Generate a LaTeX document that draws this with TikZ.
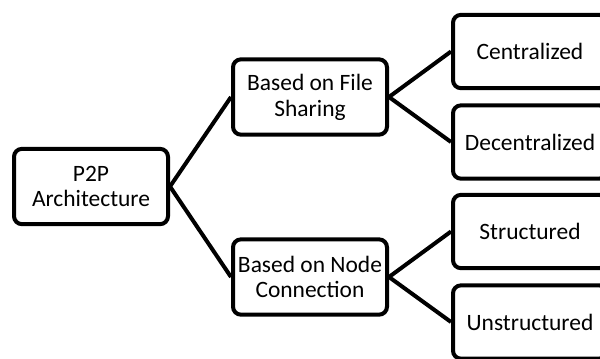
\documentclass[tikz,border=0pt]{standalone}
\usepackage{fontspec}
\setmainfont{Carlito}
\begin{document}
\begin{tikzpicture}[x=0.75pt,y=-0.75pt]
\tikzset{boite/.style={draw, line width=3pt, rounded corners=6pt, align=center, minimum width=115.5pt, minimum height=56.5pt, inner sep=1pt, font=\fontsize{17.6}{19.3}\selectfont}}
\tikzset{feuille/.style={boite, minimum height=55pt}}
\tikzset{lien/.style={line width=3pt}}
\clip (0,0) rectangle (600,358);
\node[boite] (A) at (91,186.5) {P2P\\Architecture};
\node[boite] (B1) at (310,97) {Based on File\\Sharing};
\node[boite] (B2) at (310,277) {Based on Node\\Connection};
\node[feuille] (C1) at (530,51.5) {Centralized};
\node[feuille] (C2) at (530,142) {Decentralized};
\node[feuille] (C3) at (530,231.5) {Structured};
\node[feuille] (C4) at (530,322) {Unstructured};
\draw[lien] (A.east) -- (B1.west);
\draw[lien] (A.east) -- (B2.west);
\draw[lien] (B1.east) -- (C1.west);
\draw[lien] (B1.east) -- (C2.west);
\draw[lien] (B2.east) -- (C3.west);
\draw[lien] (B2.east) -- (C4.west);
\end{tikzpicture}
\end{document}
